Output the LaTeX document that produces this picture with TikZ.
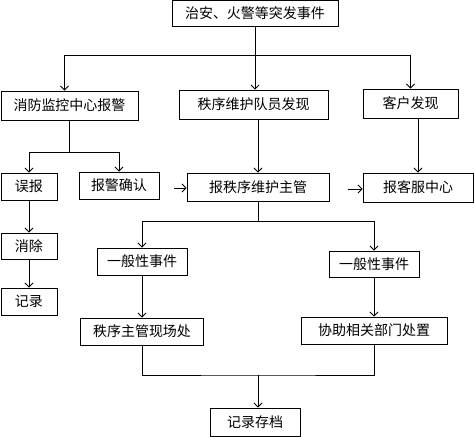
\documentclass[tikz,border=0pt]{standalone}
\usepackage{fontspec}
\newfontfamily\cjk{Noto Sans CJK SC}
\usetikzlibrary{arrows.meta, positioning}

\begin{document}
\begin{tikzpicture}[
    x=1pt, y=-1pt,
    >={Straight Barb[length=4pt, width=8pt]},
    box/.style={rectangle, draw, line width=0.9pt, minimum height=27pt, inner sep=0pt, font=\cjk\fontsize{14}{16}\selectfont},
    arrow/.style={->, line width=0.9pt},
    link/.style={line width=0.9pt}
]
\useasboundingbox (0,0) rectangle (475,437);

% Event
\node[box, minimum width=166pt, minimum height=26pt] (event) at (255,13.5) {治安、火警等突发事件};

% Second row
\node[box, minimum width=137pt, minimum height=29pt] (fire) at (69.5,105.5) {消防监控中心报警};
\node[box, minimum width=149pt, minimum height=29pt] (patrol) at (253.5,104.5) {秩序维护队员发现};
\node[box, minimum width=95pt, minimum height=29pt] (client) at (410.5,103.5) {客户发现};

% Third row
\node[box, minimum width=56pt] (false) at (29,186.5) {误报};
\node[box, minimum width=80pt] (confirm) at (119,185.5) {报警确认};
\node[box, minimum width=142pt, minimum height=28pt] (report) at (258,187) {报秩序维护主管};
\node[box, minimum width=110pt, minimum height=29pt] (service) at (418,187.5) {报客服中心};

% Left column
\node[box, minimum width=56pt, minimum height=26pt] (clear) at (29,246) {消除};
\node[box, minimum width=56pt] (record) at (29,301.5) {记录};

% Handling
\node[box, minimum width=90pt] (general1) at (142,261.5) {一般性事件};
\node[box, minimum width=90pt, minimum height=26pt] (general2) at (374,264) {一般性事件};
\node[box, minimum width=123pt] (onsite) at (142,331.5) {秩序主管现场处};
\node[box, minimum width=146pt] (assist) at (374,330.5) {协助相关部门处置};

% Archive
\node[box, minimum width=90pt, minimum height=28pt] (archive) at (255,422) {记录存档};

% Connectors from event
\coordinate (split) at (255,55);
\draw[link] (event.south) -- (split);
\draw[arrow] (split) -| ([xshift=-5pt]fire.north);
\draw[arrow] (split) -- (split |- patrol.north);
\draw[arrow] (split) -| (client.north);

% Fire alarm branch
\coordinate (fsplit) at (69.5,152);
\draw[link] (fire.south) -- (fsplit);
\draw[arrow] (fsplit) -| (false.north);
\draw[arrow] (fsplit) -| (confirm.north);
\draw[arrow] (false) -- (clear);
\draw[arrow] (clear) -- (record);

% Short arrows
\coordinate (cstub) at (174,188);
\draw[arrow] (cstub) -- (cstub -| report.west);
\coordinate (sstub) at (348,189);
\draw[arrow] (sstub) -- (sstub -| service.west);

\draw[arrow] (report.north |- patrol.south) -- (report.north);
\draw[arrow] (service.north |- client.south) -- (service.north);

% Report branch
\coordinate (rsplit) at (258,221);
\draw[link] (report.south) -- (rsplit);
\draw[arrow] (rsplit) -| (general1.north);
\draw[arrow] (rsplit) -| (general2.north);
\draw[arrow] (general1) -- (onsite);
\draw[arrow] (general2) -- (assist);

% Merge
\coordinate (merge) at (258,375);
\draw[link] (onsite.south) |- (merge) -| (assist.south);
\draw[arrow] (merge) -- (merge |- archive.north);

\end{tikzpicture}
\end{document}
